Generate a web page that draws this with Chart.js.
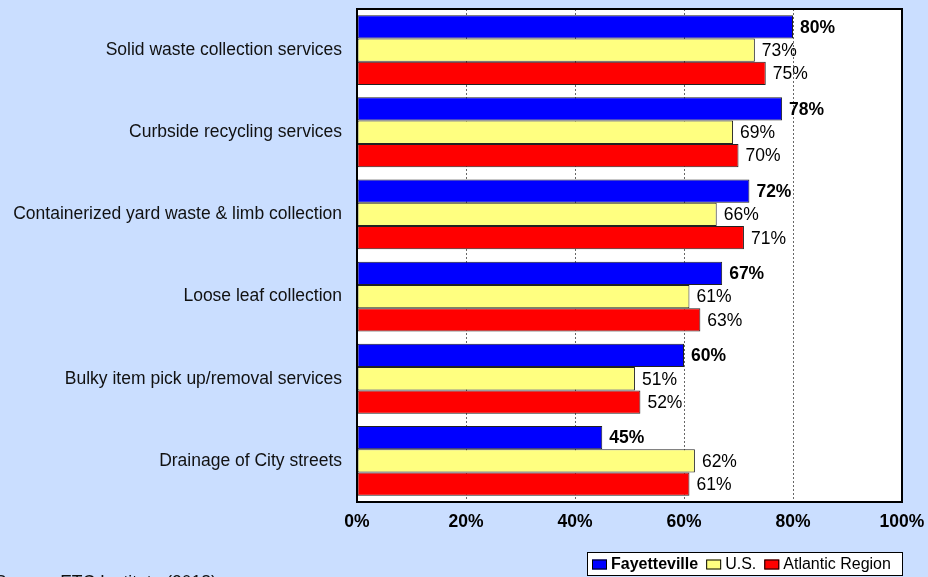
<!DOCTYPE html>
<html>
<head>
<meta charset="utf-8">
<script src="https://cdn.jsdelivr.net/npm/chart.js@4.4.1/dist/chart.umd.min.js"></script>
<style>
    body { margin: 0; background: #CADEFF; }
    #wrap { width: 928px; height: 577px; position: relative; }
</style>
</head>
<body>
<div id="wrap"><canvas id="chart"></canvas></div>
<script>
"use strict"
const categories = [
    "Solid waste collection services",
    "Curbside recycling services",
    "Containerized yard waste & limb collection",
    "Loose leaf collection",
    "Bulky item pick up/removal services",
    "Drainage of City streets"
];
const fayetteville = [80, 78, 72, 67, 60, 45];
const us = [73, 69, 66, 61, 51, 62];
const atlantic = [75, 70, 71, 63, 52, 61];
const seriesNames = ["Fayetteville", "U.S.", "Atlantic Region"];
const seriesColors = ["#0000FF", "#FFFF80", "#FF0000"];
const sourceNote = "Source: ETC Institute (2018)";

const FONT = "'Liberation Sans', Arial, sans-serif";
const BG = "#CADEFF";

// background, white plot area, frame, value labels, legend and source line
const decor = {
    id: "decor",
    beforeDraw(chart) {
        const ctx = chart.ctx;
        const a = chart.chartArea;
        ctx.save();
        ctx.fillStyle = BG;
        ctx.fillRect(0, 0, chart.width, chart.height);
        ctx.fillStyle = "#FFFFFF";
        ctx.fillRect(a.left, a.top, a.right - a.left, a.bottom - a.top);
        ctx.restore();
    },
    afterDatasetsDraw(chart) {
        const ctx = chart.ctx;
        ctx.save();
        ctx.fillStyle = "#000";
        ctx.textBaseline = "middle";
        ctx.textAlign = "left";
        chart.data.datasets.forEach(function(ds, i){
            const meta = chart.getDatasetMeta(i);
            ctx.font = (i === 0 ? "bold " : "") + "17.5px " + FONT;
            meta.data.forEach(function(bar, j){
                ctx.fillText(ds.data[j] + "%", bar.x + 7, bar.y + 1);
            });
        });
        ctx.restore();
    },
    afterDraw(chart) {
        const ctx = chart.ctx;
        const a = chart.chartArea;
        ctx.save();
        ctx.strokeStyle = "#000";
        ctx.lineWidth = 2;
        ctx.strokeRect(a.left, a.top, a.right - a.left, a.bottom - a.top);

        // legend box
        const lx = 587, ly = 552, lw = 315, lh = 23;
        ctx.fillStyle = "#FFFFFF";
        ctx.fillRect(lx, ly, lw, lh);
        ctx.lineWidth = 1;
        ctx.strokeRect(lx + 0.5, ly + 0.5, lw, lh);
        let x = lx + 5;
        const cy = ly + lh / 2 + 1;
        ctx.textBaseline = "middle";
        seriesNames.forEach(function(name, i){
            ctx.fillStyle = seriesColors[i];
            ctx.fillRect(x, cy - 5, 15, 10);
            ctx.strokeStyle = "#000";
            ctx.strokeRect(x + 0.5, cy - 4.5, 14, 9);
            x += 19;
            ctx.font = (i === 0 ? "bold " : "") + "16px " + FONT;
            ctx.fillStyle = "#000";
            ctx.fillText(name, x, cy);
            x += ctx.measureText(name).width + 8;
        });

        // source line, mostly below the bottom edge
        ctx.font = "17.5px " + FONT;
        ctx.fillStyle = "#111";
        ctx.textBaseline = "alphabetic";
        ctx.fillText(sourceNote, -5, 588);
        ctx.restore();
    }
};

const ctx = document.getElementById("chart");
new Chart(ctx, {
    type: "bar",
    data: {
        labels: categories,
        datasets: [
            { label: seriesNames[0], data: fayetteville, backgroundColor: seriesColors[0] },
            { label: seriesNames[1], data: us, backgroundColor: seriesColors[1] },
            { label: seriesNames[2], data: atlantic, backgroundColor: seriesColors[2] }
        ].map(function(d){
            d.borderColor = "#222";
            d.borderWidth = 1;
            d.borderSkipped = false;
            d.categoryPercentage = 0.85;
            d.barPercentage = 1.0;
            return d;
        })
    },
    options: {
        indexAxis: "y",
        responsive: true,
        maintainAspectRatio: false,
        animation: false,
        devicePixelRatio: 1,
        layout: { padding: { top: 9, right: 26, left: 0, bottom: 0 } },
        plugins: {
            legend: { display: false },
            tooltip: { enabled: false }
        },
        scales: {
            x: {
                min: 0,
                max: 100,
                ticks: {
                    stepSize: 20,
                    color: "#000",
                    padding: 10,
                    font: { family: FONT, size: 17.5, weight: "bold" },
                    callback: function(v){ return v + "%"; }
                },
                grid: {
                    drawTicks: false,
                    color: function(c){
                        return (c.tick && (c.tick.value === 0 || c.tick.value === 100)) ? "rgba(0,0,0,0)" : "#666";
                    },
                    lineWidth: 1
                },
                border: { display: false, dash: [2, 2] },
                afterFit: function(s){
                    s.height = 75;
                    s.paddingLeft = 0;
                    s.paddingRight = 0;
                }
            },
            y: {
                ticks: {
                    color: "#111",
                    padding: 15,
                    font: { family: FONT, size: 17.5 }
                },
                grid: { display: false, drawTicks: false },
                border: { display: false },
                afterFit: function(s){
                    s.width = 357;
                    s.paddingTop = 0;
                    s.paddingBottom = 0;
                }
            }
        }
    },
    plugins: [decor]
});
</script>
</body>
</html>
